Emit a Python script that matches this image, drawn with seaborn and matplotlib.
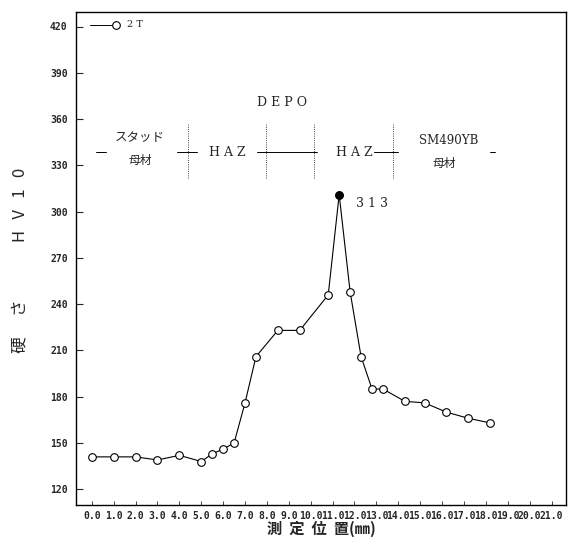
import matplotlib
matplotlib.use("Agg")
import matplotlib.pyplot as plt
import seaborn as sns
import pandas as pd

position_mm = [0.0, 1.0, 2.0, 3.0, 4.0, 5.0, 5.5, 6.0, 6.5, 7.0, 7.5, 8.5, 9.5,
               10.8, 11.3, 11.8, 12.3, 12.8, 13.3, 14.3, 15.2, 16.2, 17.2, 18.2]
hardness_hv10 = [141, 141, 141, 139, 142, 138, 143, 146, 150, 176, 206, 223, 223,
                 246, 311, 248, 206, 185, 185, 177, 176, 170, 166, 163]
series_name = "2 T"
peak_label = "3 1 3"

y_ticks = [120, 150, 180, 210, 240, 270, 300, 330, 360, 390, 420]
x_ticks = list(range(0, 22))
x_tick_labels = [f"{v:.1f}" for v in x_ticks]

# zone annotations: boundaries and labels
zone_bounds = [4.4, 7.96, 10.15, 13.76]
zone_segments = [(0.2, 0.66), (3.9, 4.8), (7.55, 10.3), (12.9, 14.0), (18.2, 18.4)]

df = pd.DataFrame({"pos": position_mm, "hv": hardness_hv10})

sns.set_theme(style="ticks")
plt.rcParams["font.family"] = ["Noto Sans CJK JP", "DejaVu Sans"]

fig = plt.figure(figsize=(5.68, 5.53), dpi=100)
ax = fig.add_axes([76 / 568, 1 - 505 / 553, (566 - 76) / 568, (505 - 12) / 553])

sns.lineplot(data=df, x="pos", y="hv", ax=ax, color="black", lw=0.8,
             marker="o", markersize=5.5, markerfacecolor="white",
             markeredgecolor="black", markeredgewidth=0.8, legend=False)

# peak point drawn solid
peak = df.loc[df["hv"].idxmax()]
ax.plot(peak["pos"], peak["hv"], "o", color="black", ms=5, zorder=5)
ax.annotate(peak_label, (peak["pos"], peak["hv"]), xytext=(12, -9),
            textcoords="offset points", fontsize=9, family="DejaVu Serif")

# legend key: line ending in an open circle
ax.plot([0.029, 0.076], [0.974, 0.974], color="black", lw=0.7, transform=ax.transAxes)
ax.plot([0.082], [0.974], "o", ms=5.5, mfc="white", mec="black", mew=0.8,
        transform=ax.transAxes)
ax.text(0.104, 0.974, series_name, fontsize=7, va="center", transform=ax.transAxes,
        family="DejaVu Serif")

# zone marks
y_line = 338.4
for x0, x1 in zone_segments:
    ax.plot([x0, x1], [y_line, y_line], color="black", lw=0.7)
for xb in zone_bounds:
    ax.plot([xb, xb], [322, 357], color="black", lw=0.6, ls=":")
ax.text(8.7, 371, "D E P O", fontsize=9, ha="center", va="center", family="DejaVu Serif")
ax.text(2.2, 348, "スタッド", fontsize=9, ha="center", va="center")
ax.text(2.2, 333, "母材", fontsize=8.5, ha="center", va="center")
ax.text(6.2, 338.4, "H A Z", fontsize=9, ha="center", va="center", family="DejaVu Serif")
ax.text(12.0, 338.4, "H A Z", fontsize=9, ha="center", va="center", family="DejaVu Serif")
ax.text(16.3, 346, "SM490YB", fontsize=8.5, ha="center", va="center", family="DejaVu Serif")
ax.text(16.1, 331.5, "母材", fontsize=8.5, ha="center", va="center")

ax.set_xlim(-0.72, 21.66)
ax.set_ylim(109.8, 429.4)
ax.set_yticks(y_ticks)
ax.set_yticklabels([str(v) for v in y_ticks], fontsize=7, family="DejaVu Sans Mono",
                   fontweight="bold")
ax.set_xticks(x_ticks)
ax.set_xticklabels(x_tick_labels, fontsize=7, family="DejaVu Sans Mono", fontweight="bold")
ax.tick_params(axis="y", direction="in", length=5, width=0.8, pad=6)
ax.tick_params(axis="x", direction="in", length=3, width=0.6, pad=4)
for s in ax.spines.values():
    s.set_color("black")
    s.set_linewidth(1.0)

ax.set_xlabel("測  定  位  置(㎜)", fontsize=11, fontweight="bold", labelpad=0)
ax.set_ylabel("硬　 さ　　　  H   V   1   0", fontsize=12)
ax.yaxis.set_label_coords(-0.098, 0.497)

fig.savefig("out.png", dpi=100)
